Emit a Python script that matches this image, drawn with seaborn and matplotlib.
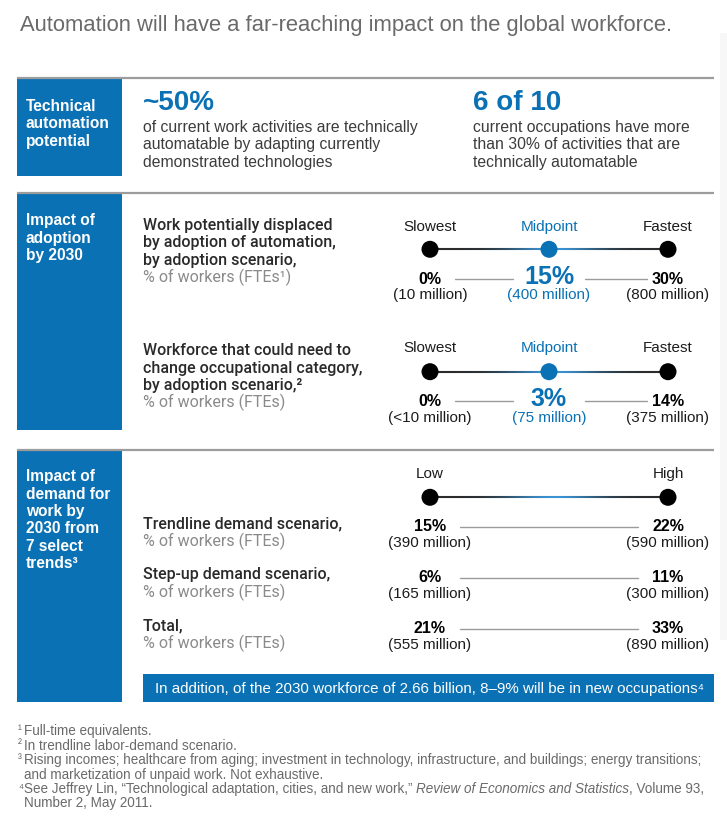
import numpy as np
import pandas as pd
import seaborn as sns
import matplotlib.pyplot as plt
from matplotlib.collections import LineCollection
from matplotlib.colors import to_rgb
from matplotlib.patches import Rectangle

# --- values ---
automatable_share = "~50%"
occupations_share = "6 of 10"

adoption_scenarios = ["Slowest", "Midpoint", "Fastest"]
displaced_pct = [0, 15, 30]
displaced_millions = ["10", "400", "800"]
occ_change_pct = [0, 3, 14]
occ_change_millions = ["<10", "75", "375"]

demand_levels = ["Low", "High"]
demand_rows = ["Trendline demand scenario,", "Step-up demand scenario,", "Total,"]
trendline_pct = [15, 22]
trendline_millions = [390, 590]
stepup_pct = [6, 11]
stepup_millions = [165, 300]
total_pct = [21, 33]
total_millions = [555, 890]

workforce_2030 = "2.66 billion"
new_occupations = "8–9%"

footnote_marks = ["¹", "²", "³", "", "⁴", ""]
footnote_lines = [
    "Full-time equivalents.",
    "In trendline labor-demand scenario.",
    "Rising incomes; healthcare from aging; investment in technology, infrastructure, and buildings; energy transitions;",
    "and marketization of unpaid work. Not exhaustive.",
    None,  # citation line, drawn in pieces (italic journal name)
    "Number 2, May 2011.",
]

BLUE = "#0a71b4"
DARK = "#1c1c1c"
GRAY = "#8a8a8a"
RULE = "#9c9c9c"
TEXT = "#3c3c3c"

sns.set_theme(style="white")
plt.rcParams["font.family"] = ["Liberation Sans", "DejaVu Sans"]

W, H = 727, 818
fig = plt.figure(figsize=(W / 100, H / 100), dpi=100)
ax = fig.add_axes([0, 0, 1, 1])
ax.set_xlim(0, W)
ax.set_ylim(H, 0)
ax.axis("off")

ROBOTO = ["Roboto", "DejaVu Sans"]
MED = dict(family=ROBOTO, fontweight="medium")


def block(x, y0, lines, dy=17.3, **kw):
    for k, s in enumerate(lines):
        ax.text(x, y0 + k * dy, s, va="baseline", ha="left", **kw)


# faint strip on the right
ax.add_patch(Rectangle((720, 33), 7, 607, color="#f7f7f7", lw=0))

ax.text(20, 30.5, "Automation will have a far-reaching impact on the global workforce.",
        fontsize=15.8, color="#6a6a6a", va="baseline")

# rules and side boxes
for y in [78, 193, 450]:
    ax.plot([17, 714], [y, y], color=RULE, lw=1.6, solid_capstyle="butt")
for top, bot in [(79, 175.5), (194, 430), (451, 702)]:
    ax.add_patch(Rectangle((17, top), 105, bot - top, color=BLUE, lw=0))

block(26, 111, ["Technical", "automation", "potential"], fontsize=11.2, color="white", fontweight="bold")
block(26, 225.5, ["Impact of", "adoption", "by 2030"], fontsize=11.2, color="white", fontweight="bold")
block(26, 481.5, ["Impact of", "demand for", "work by", "2030 from", "7 select", "trends³"],
      fontsize=11.2, color="white", fontweight="bold")

# section 1
ax.text(143, 110, automatable_share, fontsize=20, fontweight="bold", color=BLUE, va="baseline")
block(143, 132, ["of current work activities are technically",
                 "automatable by adapting currently",
                 "demonstrated technologies"], fontsize=11.3, color=TEXT)
ax.text(473, 110, occupations_share, fontsize=20, fontweight="bold", color=BLUE, va="baseline")
block(473, 132, ["current occupations have more",
                 "than 30% of activities that are",
                 "technically automatable"], fontsize=11.3, color=TEXT)

# section 2 labels
block(143, 230, ["Work potentially displaced", "by adoption of automation,",
                 "by adoption scenario,"], dy=17.5, fontsize=11.5, color="#2a2a2a", **MED)
ax.text(143, 282.5, "% of workers (FTEs¹)", fontsize=11.5, color=GRAY, va="baseline", family=ROBOTO)
block(143, 355, ["Workforce that could need to", "change occupational category,",
                 "by adoption scenario,²"], dy=17.5, fontsize=11.5, color="#2a2a2a", **MED)
ax.text(143, 407, "% of workers (FTEs)", fontsize=11.5, color=GRAY, va="baseline", family=ROBOTO)


def scale_axes(x_first=430, x_last=668):
    return fig.add_axes([x_first / W, 0, (x_last - x_first) / W, 1])


def draw_scale(sax, categories, y, label_y, highlight=None):
    n = len(categories)
    colors = {c: (BLUE if c == highlight else "black") for c in categories}
    df = pd.DataFrame({"level": categories, "y": [y] * n})
    sns.scatterplot(data=df, x="level", y="y", hue="level", palette=colors, s=150,
                    edgecolor="none", legend=False, ax=sax, zorder=3, clip_on=False)
    t = np.linspace(0, n - 1, 300)
    pts = np.column_stack([t, np.full_like(t, y)])
    segs = np.stack([pts[:-1], pts[1:]], axis=1)
    f = t[:-1] / (n - 1)
    w = np.exp(-((f - 0.52) / 0.2) ** 2)[:, None]
    cols = (1 - w) * np.array(to_rgb("#2a2a2a")) + w * np.array(to_rgb("#3a93d3"))
    sax.add_collection(LineCollection(segs, colors=cols, linewidths=1.5, zorder=1))
    for i, c in enumerate(categories):
        sax.text(i, label_y, c, ha="center", va="baseline", fontsize=11,
                 color=BLUE if c == highlight else DARK)
    sax.set_xlim(0, n - 1)
    sax.set_ylim(H, 0)
    sax.axis("off")


def draw_values(sax, pcts, millions, y, pads_px, highlight=None, unit_px=119):
    n = len(pcts)
    for i, (p, m) in enumerate(zip(pcts, millions)):
        big = i == highlight
        sax.text(i, y, f"{p}%", ha="center", va="baseline",
                 fontsize=18 if big else 11.5, fontweight="bold",
                 color=BLUE if big else "black")
        sax.text(i, y + 16, f"({m} million)", ha="center", va="baseline",
                 fontsize=11, color=BLUE if big else DARK)
    for i in range(n - 1):
        sax.plot([i + pads_px[i] / unit_px, i + 1 - pads_px[i + 1] / unit_px],
                 [y - 4.3, y - 4.3], color=RULE, lw=1, clip_on=False)


sax1 = scale_axes()
draw_scale(sax1, adoption_scenarios, 249.3, 230.7, highlight="Midpoint")
draw_values(sax1, displaced_pct, displaced_millions, 283.5, [25, 36, 21], highlight=1)

sax2 = scale_axes()
draw_scale(sax2, adoption_scenarios, 371.7, 352.3, highlight="Midpoint")
draw_values(sax2, occ_change_pct, occ_change_millions, 405.7, [25, 36, 21], highlight=1)

# section 3
sax3 = scale_axes()
draw_scale(sax3, demand_levels, 497.3, 478.3)
rows = [(trendline_pct, trendline_millions), (stepup_pct, stepup_millions),
        (total_pct, total_millions)]
for k, (label, (p, m)) in enumerate(zip(demand_rows, rows)):
    y = 530.8 + k * 51
    ax.text(143, y - 2.3, label, fontsize=11.5, color="#2a2a2a", va="baseline", **MED)
    ax.text(143, y + 15.2, "% of workers (FTEs)", fontsize=11.5, color=GRAY, va="baseline",
            family=ROBOTO)
    draw_values(sax3, p, m, y, [30, 30], unit_px=238)

ax.add_patch(Rectangle((142.5, 673.5), 571.5, 28.5, color=BLUE, lw=0))
ax.text(155, 693.3,
        f"In addition, of the 2030 workforce of {workforce_2030}, {new_occupations} will be in new occupations⁴",
        fontsize=10.9, color="white", va="baseline")

# footnotes
FN = dict(fontsize=9.75, color="#6a6a6a", va="bottom", ha="left")
for k, (mark, s) in enumerate(zip(footnote_marks, footnote_lines)):
    y = 738 + k * 14.5
    if mark:
        ax.text(18, y - 1, mark, fontsize=8.5, color="#6a6a6a", va="bottom", ha="left")
    if s is not None:
        ax.text(24, y, s, **FN)
t1 = ax.text(24, 738 + 4 * 14.5, "See Jeffrey Lin, “Technological adaptation, cities, and new work,” ", **FN)
t2 = ax.annotate("Review of Economics and Statistics", xy=(1, 0), xycoords=t1,
                 fontstyle="italic", **FN)
ax.annotate(", Volume 93,", xy=(1, 0), xycoords=t2, **FN)

fig.savefig("out.png", dpi=100)
